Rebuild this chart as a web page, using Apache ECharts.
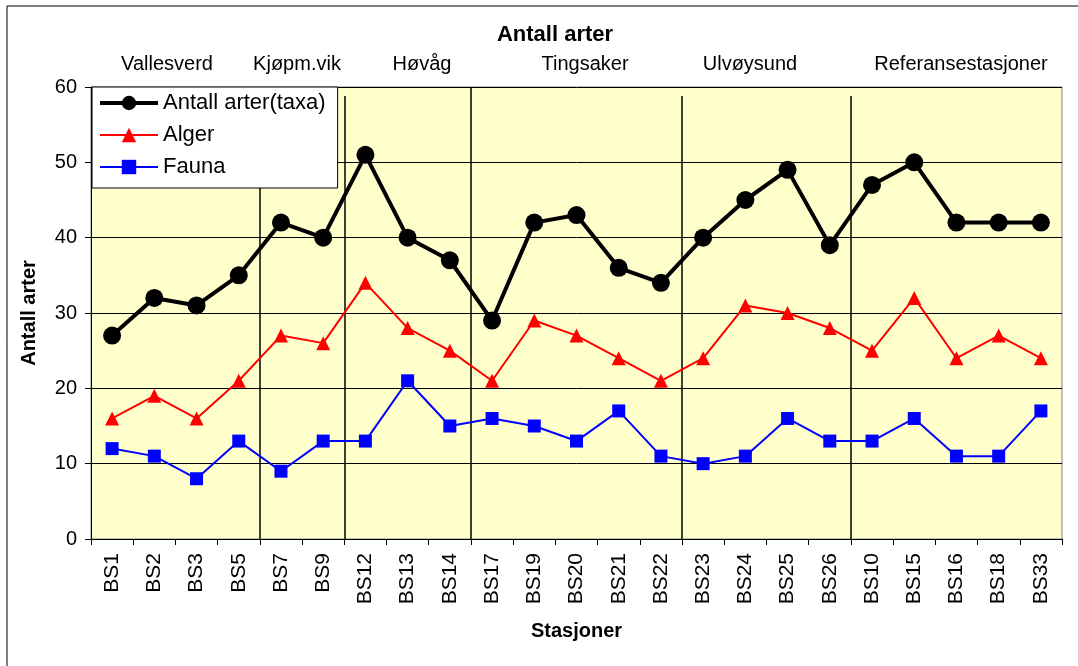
<!DOCTYPE html>
<html>
<head>
<meta charset="utf-8">
<script src="https://cdn.jsdelivr.net/npm/echarts@6/dist/echarts.min.js"></script>
<style>
  html, body { margin: 0; padding: 0; background: #fff; }
  #main { width: 1078px; height: 666px; }
</style>
</head>
<body>
<div id="main"></div>
<script>
// stations along the x axis
var stations = ['BS1', 'BS2', 'BS3', 'BS5', 'BS7', 'BS9', 'BS12', 'BS13', 'BS14', 'BS17', 'BS19',
  'BS20', 'BS21', 'BS22', 'BS23', 'BS24', 'BS25', 'BS26', 'BS10', 'BS15', 'BS16', 'BS18', 'BS33'];

// number of species per station
var totalTaxa = [27, 32, 31, 35, 42, 40, 51, 40, 37, 29, 42, 43, 36, 34, 40, 45, 49, 39, 47, 50, 42, 42, 42];
var alger     = [16, 19, 16, 21, 27, 26, 34, 28, 25, 21, 29, 27, 24, 21, 24, 31, 30, 28, 25, 32, 24, 27, 24];
var fauna     = [12, 11, 8, 13, 9, 13, 13, 21, 15, 16, 15, 13, 17, 11, 10, 11, 16, 13, 13, 16, 11, 11, 17];

// area groups: names and the category index where each separator sits
var areaNames   = ['Vallesverd', 'Kjøpm.vik', 'Høvåg', 'Tingsaker', 'Ulvøysund', 'Referansestasjoner'];
var separatorAt = [4, 6, 9, 14, 18];
var separatorTop = [47, 58.8, 60, 58.8, 58.8];

var yTicks = [0, 10, 20, 30, 40, 50, 60];

// pixel centres for the area labels above the plot
var areaLabelX = [167, 297, 422, 585, 750, 961];

var FONT = "'Liberation Sans', Arial, sans-serif";
var chart = echarts.init(document.getElementById('main'));

var sepLines = separatorAt.map(function (x, i) {
  return { coords: [[x, separatorTop[i]], [x, 0]] };
});

var labels = areaNames.map(function (name, i) {
  return {
    type: 'text',
    x: areaLabelX[i],
    y: 64,
    style: {
      text: name,
      font: '20px ' + FONT,
      fill: '#000',
      align: 'center',
      verticalAlign: 'middle'
    }
  };
});

var option = {
  animation: false,
  backgroundColor: '#fff',
  title: {
    text: 'Antall arter',
    left: 550,
    textAlign: 'center',
    top: 19,
    textStyle: { fontFamily: FONT, fontSize: 22, fontWeight: 'bold', color: '#000' }
  },
  graphic: [{
    type: 'rect',
    shape: { x: 7, y: 6, width: 1200, height: 800 },
    style: { fill: 'none', stroke: '#000', lineWidth: 1 },
    silent: true
  }].concat(labels),
  legend: {
    orient: 'vertical',
    left: 92,
    top: 87,
    backgroundColor: '#fff',
    borderColor: '#000',
    borderWidth: 1,
    padding: [3, 12, 8, 6],
    itemGap: 6,
    itemWidth: 58,
    itemHeight: 18,
    textStyle: { fontFamily: FONT, fontSize: 22, color: '#000', lineHeight: 26 },
    data: [
      { name: 'Antall arter(taxa)', lineStyle: { width: 4 } },
      { name: 'Alger', lineStyle: { width: 2 } },
      { name: 'Fauna', lineStyle: { width: 2 } }
    ]
  },
  grid: {
    left: 91,
    top: 87,
    width: 971,
    height: 452,
    show: true,
    backgroundColor: '#FFFFCC',
    borderColor: '#808080',
    borderWidth: 1
  },
  xAxis: [{
    type: 'category',
    data: stations,
    boundaryGap: true,
    name: 'Stasjoner',
    nameLocation: 'middle',
    nameGap: 82,
    nameTextStyle: { fontFamily: FONT, fontSize: 20, fontWeight: 'bold', color: '#000' },
    axisLine: { lineStyle: { color: '#000', width: 1 } },
    axisTick: { show: true, length: 6, alignWithLabel: false, lineStyle: { color: '#000' } },
    axisLabel: { rotate: 90, interval: 0, margin: 14, fontFamily: FONT, fontSize: 21, color: '#000' },
    splitLine: { show: false }
  }, {
    type: 'value',
    min: 0,
    max: stations.length,
    show: false
  }],
  yAxis: {
    type: 'value',
    min: yTicks[0],
    max: yTicks[yTicks.length - 1],
    interval: 10,
    name: 'Antall arter',
    nameLocation: 'middle',
    nameGap: 52,
    nameTextStyle: { fontFamily: FONT, fontSize: 20, fontWeight: 'bold', color: '#000' },
    axisLine: { show: true, lineStyle: { color: '#000', width: 1 } },
    axisTick: { show: true, length: 6, lineStyle: { color: '#000' } },
    axisLabel: { margin: 14, fontFamily: FONT, fontSize: 20, color: '#000' },
    splitLine: { show: true, lineStyle: { color: '#000', width: 1 } }
  },
  series: [{
    name: 'separators',
    type: 'lines',
    coordinateSystem: 'cartesian2d',
    xAxisIndex: 1,
    yAxisIndex: 0,
    silent: true,
    z: 1,
    lineStyle: { color: '#000', width: 1.5, opacity: 1 },
    data: sepLines
  }, {
    name: 'Antall arter(taxa)',
    type: 'line',
    data: totalTaxa,
    z: 5,
    symbol: 'circle',
    symbolSize: 18,
    color: '#000',
    lineStyle: { color: '#000', width: 4 },
    itemStyle: { color: '#000' }
  }, {
    name: 'Alger',
    type: 'line',
    data: alger,
    z: 4,
    symbol: 'triangle',
    symbolSize: 14,
    color: '#FF0000',
    lineStyle: { color: '#FF0000', width: 2 },
    itemStyle: { color: '#FF0000' }
  }, {
    name: 'Fauna',
    type: 'line',
    data: fauna,
    z: 3,
    symbol: 'rect',
    symbolSize: 13,
    color: '#0000FF',
    lineStyle: { color: '#0000FF', width: 2 },
    itemStyle: { color: '#0000FF' }
  }]
};

chart.setOption(option);
</script>
</body>
</html>
